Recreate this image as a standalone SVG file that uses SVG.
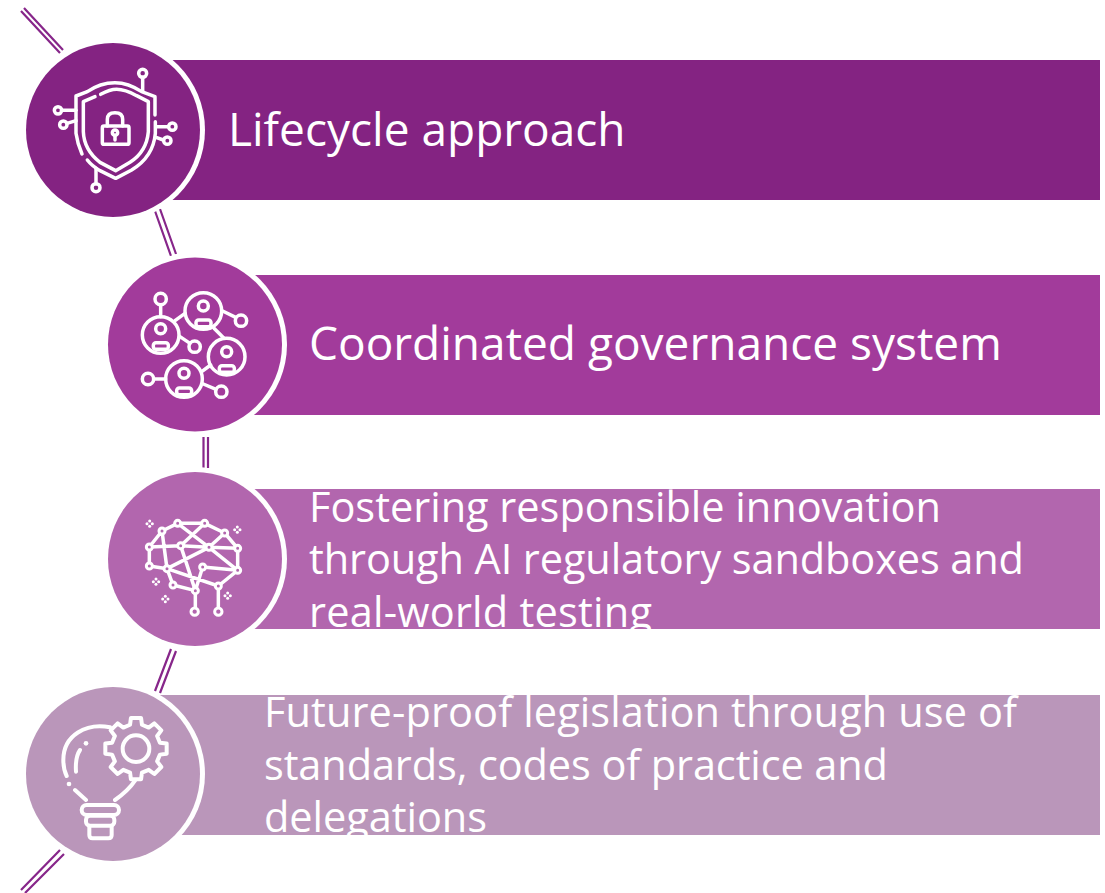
<svg xmlns="http://www.w3.org/2000/svg" width="1105" height="893" viewBox="0 0 1105 893">
<style>
text{font-family:"Open Sans","Noto Sans","Liberation Sans",sans-serif;fill:#fff}
.big{font-size:46px}
.small{font-size:41.500px}
.conn{fill:none;stroke:#87268A;stroke-width:2.200}
.halo{fill:#fff}
.ic{fill:none;stroke:#fff;stroke-width:10.500;stroke-linecap:round;stroke-linejoin:round}
.dot{fill:#fff}
</style>
<defs>
<g id="spark"><circle cx="0" cy="-8" r="4.500" class="dot"/><circle cx="0" cy="8" r="4.500" class="dot"/><circle cx="-8" cy="0" r="4.500" class="dot"/><circle cx="8" cy="0" r="4.500" class="dot"/></g>
</defs>
<g id="connectors" class="conn">
<path d="M24 8 L63 50 M21 11 L60 53"/>
<path d="M155 211 L171 256 M160 209 L176 254"/>
<path d="M203.500 437 V468 M208 437 V468"/>
<path d="M171 649 L155 691 M176 651 L160 693"/>
<path d="M60 850 L21 890 M64 854 L25 893"/>
</g>
<g id="node1">
<rect x="150" y="60" width="950" height="140" fill="#842382"/>
<circle cx="113" cy="130" r="92" class="halo"/>
<circle cx="113" cy="130" r="87" fill="#842382"/>
<g transform="scale(0.33333)" class="ic">
<path d="M465 345 V290 L425 275 Q385 248 345 248 Q300 248 262 275 L228 288 V400 Q232 430 246 462"/>
<path d="M262 480 Q275 497 300 512 L347 535 L395 510 Q460 470 466 400 V365"/>
<path d="M302 283 Q330 268 350 268 Q375 268 410 287 L445 305 V395 Q440 455 390 487 L347 512 L300 487 Q252 450 250 395 V305 L285 290"/>
<rect x="307" y="378" width="80" height="55" rx="5"/>
<path d="M322 378 V358 Q322 338 345 338 Q368 338 368 358 V378"/>
<circle cx="345" cy="398" r="8"/><path d="M345 406 V420"/>
<circle cx="428" cy="220" r="12"/><path d="M428 232 V272"/>
<circle cx="174" cy="331" r="11"/><path d="M185 331 H228"/>
<circle cx="190" cy="374" r="11"/><path d="M201 370 L228 362"/>
<circle cx="517" cy="380" r="11"/><path d="M505 380 H470"/>
<circle cx="502" cy="422" r="11"/><path d="M490 420 L468 412"/>
<circle cx="288" cy="563" r="12"/><path d="M288 551 V505"/>
</g>
<text class="big" x="228" y="146">Lifecycle approach</text>
</g>
<g id="node2">
<rect x="232" y="275" width="868" height="140" fill="#A23B9B"/>
<circle cx="195" cy="344.500" r="92" class="halo"/>
<circle cx="195" cy="344.500" r="87" fill="#A23B9B"/>
<g transform="translate(90 230) scale(0.33333)" class="ic">
<circle cx="212" cy="315" r="55"/><circle cx="340" cy="243" r="55"/><circle cx="410" cy="380" r="55"/><circle cx="282" cy="447" r="55"/>
<circle cx="212" cy="296" r="15"/><circle cx="340" cy="228" r="15"/><circle cx="410" cy="365" r="15"/><circle cx="282" cy="430" r="15"/>
<rect x="190" y="338" width="45" height="20" rx="8"/><rect x="318" y="270" width="45" height="20" rx="8"/><rect x="388" y="407" width="45" height="20" rx="8"/><rect x="260" y="474" width="45" height="20" rx="8"/>
<circle cx="212" cy="207" r="17"/><circle cx="453" cy="272" r="17"/><circle cx="314" cy="350" r="17"/><circle cx="174" cy="447" r="17"/><circle cx="394" cy="485" r="17"/>
<path d="M212 224 V260 M398 243 L437 262 M270 320 L300 340 M192 447 H227 M340 462 L378 478 M255 272 L285 250 M372 295 L402 325 M335 425 L362 405"/>
</g>
<text class="big" x="309" y="360">Coordinated governance system</text>
</g>
<g id="node3">
<rect x="232" y="489" width="868" height="140" fill="#B266AE"/>
<circle cx="195" cy="559" r="92" class="halo"/>
<circle cx="195" cy="559" r="87" fill="#B266AE"/>
<g transform="translate(90 460) scale(0.33333)">
<path class="ic" d="M263 190 L344 190 L404 219 L443 265 L443 331 L385 378 V455 M263 190 L216 213 L178 261 L178 318 L231 326 L249 375 L316 392 V455 M216 213 L231 326 M178 261 L272 257 L357 262 L404 219 M263 190 L357 262 L443 331 M344 190 L272 257 L316 392 M231 326 L357 262 L443 265 M231 326 L385 378 M338 321 L443 331 M338 321 L316 392"/>
<g style="fill:#B266AE;stroke:#fff;stroke-width:9">
<circle cx="263" cy="190" r="9"/><circle cx="344" cy="190" r="9"/><circle cx="216" cy="213" r="9"/><circle cx="404" cy="219" r="9"/><circle cx="178" cy="261" r="9"/><circle cx="272" cy="257" r="9"/><circle cx="357" cy="262" r="9"/><circle cx="443" cy="265" r="9"/><circle cx="178" cy="318" r="9"/><circle cx="231" cy="326" r="9"/><circle cx="338" cy="321" r="9"/><circle cx="443" cy="331" r="9"/><circle cx="249" cy="375" r="9"/><circle cx="316" cy="392" r="9"/><circle cx="385" cy="378" r="9"/><circle cx="314" cy="455" r="11"/><circle cx="385" cy="455" r="11"/>
</g>
<use href="#spark" x="179" y="191"/><use href="#spark" x="442" y="209"/><use href="#spark" x="198" y="365"/><use href="#spark" x="226" y="417"/><use href="#spark" x="413" y="407"/>
</g>
<text class="small" x="309" y="522" textLength="632">Fostering responsible innovation</text>
<text class="small" x="309" y="574" textLength="715">through AI regulatory sandboxes and</text>
<text class="small" x="309" y="627" textLength="343">real-world testing</text>
</g>
<g id="node4">
<rect x="150" y="695" width="950" height="140" fill="#BA96BA"/>
<circle cx="113" cy="774" r="92" class="halo"/>
<circle cx="113" cy="774" r="87" fill="#BA96BA"/>
<g transform="translate(0 670) scale(0.33333)">
<g class="ic" style="stroke-width:12">
<path transform="translate(408 236)" d="M71.800 -17.900 L92 -15.200 L92 15.200 L71.800 17.900 L63.400 38.100 L76 55 L55 76 L38.100 63.400 L17.900 71.800 L15.200 92 L-15.200 92 L-17.900 71.800 L-38.100 63.400 L-55 76 L-76 55 L-63.400 38.100 L-71.800 17.900 L-92 15.200 L-92 -15.200 L-71.800 -17.900 L-63.400 -38.100 L-76 -55 L-55 -76 L-38.100 -63.400 L-17.900 -71.800 L-15.200 -92 L15.200 -92 L17.900 -71.800 L38.100 -63.400 L55 -76 L76 -55 L63.400 -38.100 Z"/>
<circle cx="408" cy="236" r="40"/>
<path d="M330 172 C260 158 190 195 190 270 Q190 298 200 318 M225 360 L258 390 M405 332 Q385 362 345 390 M240 240 Q225 262 228 305"/>
<rect x="245" y="405" width="112" height="30" rx="15"/>
<rect x="258" y="437" width="85" height="30" rx="12"/>
<path d="M268 467 V495 Q268 505 278 505 H325 Q335 505 335 495 V467"/>
</g>
<circle cx="258" cy="220" r="7" class="dot"/><circle cx="207" cy="342" r="7" class="dot"/>
</g>
<text class="small" x="264" y="727" textLength="753">Future-proof legislation through use of</text>
<text class="small" x="264" y="780" textLength="624">standards, codes of practice and</text>
<text class="small" x="264" y="832" textLength="223">delegations</text>
</g>
</svg>
